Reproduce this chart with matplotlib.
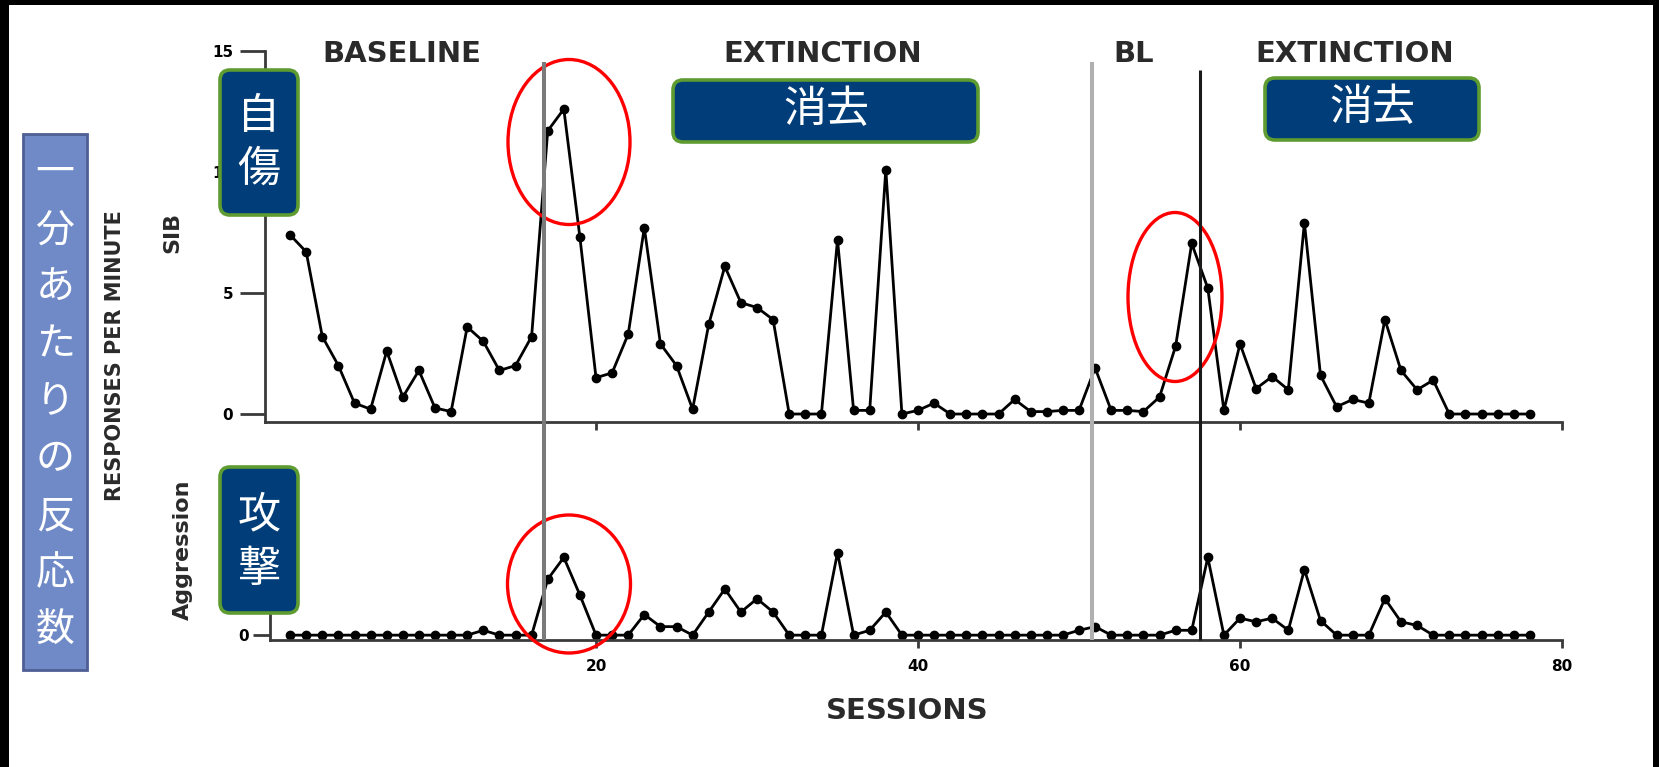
import matplotlib
matplotlib.use("Agg")
import numpy as np
import matplotlib.pyplot as plt
import matplotlib.patches as mpatches
import matplotlib.transforms as mtransforms

plt.rcParams['font.family'] = ['DejaVu Sans', 'Noto Sans CJK JP']

# --- data (responses per minute) ---
sessions = np.arange(1, 79)

sib_baseline = [7.4, 6.7, 3.2, 2.0, 0.45, 0.2, 2.6, 0.7, 1.8, 0.25, 0.1, 3.6, 3.0, 1.8, 2.0, 3.2]
sib_extinction1 = [11.7, 12.6, 7.3, 1.5, 1.7, 3.3, 7.7, 2.9, 2.0, 0.2, 3.7, 6.1, 4.6, 4.4, 3.9,
                   0.0, 0.0, 0.0, 7.2, 0.15, 0.15, 10.1, 0.0, 0.15, 0.45, 0.0, 0.0, 0.0, 0.0,
                   0.6, 0.1, 0.1, 0.15, 0.15]
sib_bl = [1.9, 0.15, 0.15, 0.1, 0.7, 2.8, 7.05]
sib_extinction2 = [5.2, 0.15, 2.9, 1.05, 1.55, 1.0, 7.9, 1.6, 0.3, 0.6, 0.45, 3.9, 1.8, 1.0, 1.4,
                   0.0, 0.0, 0.0, 0.0, 0.0, 0.0]

agg_baseline = [0, 0, 0, 0, 0, 0, 0, 0, 0, 0, 0, 0, 0.2, 0, 0, 0]
agg_extinction1 = [2.3, 3.2, 1.65, 0, 0, 0, 0.85, 0.35, 0.35, 0, 0.95, 1.9, 0.95, 1.5, 0.95,
                   0, 0, 0, 3.4, 0, 0.2, 0.95, 0, 0, 0, 0, 0, 0, 0, 0, 0, 0, 0, 0.2]
agg_bl = [0.35, 0, 0, 0, 0, 0.2, 0.2]
agg_extinction2 = [3.2, 0, 0.7, 0.55, 0.7, 0.2, 2.7, 0.6, 0, 0, 0, 1.5, 0.55, 0.4,
                   0, 0, 0, 0, 0, 0, 0]

sib = sib_baseline + sib_extinction1 + sib_bl + sib_extinction2
aggression = agg_baseline + agg_extinction1 + agg_bl + agg_extinction2

phase_changes = [16.8, 50.8, 57.5]
phase_names = ["BASELINE", "EXTINCTION", "BL", "EXTINCTION"]
phase_name_x = [7.95, 34.1, 53.4, 67.1]

ylabel_jp = "一分あたりの反応数"

# --- layout (pixels of the 1659x767 picture) ---
W, H = 1659, 767
NAVY = '#013e79'
GREEN = '#5e9b30'

def fr(x0, y0, x1, y1):
    return [x0 / W, 1 - y1 / H, (x1 - x0) / W, (y1 - y0) / H]

fig = plt.figure(figsize=(W / 100, H / 100), dpi=100)
fig.patch.set_facecolor('white')

ax1 = fig.add_axes(fr(265, 51, 1562, 422))
ax2 = fig.add_axes(fr(270, 470, 1562, 640))

for ax in (ax1, ax2):
    for side in ('top', 'right'):
        ax.spines[side].set_visible(False)
    for side in ('left', 'bottom'):
        ax.spines[side].set_color('#3a3a3a')
        ax.spines[side].set_linewidth(2.0)
    ax.set_facecolor('none')
    ax.set_xticks([20, 40, 60, 80])

ax1.plot(sessions, sib, color='black', lw=2.0, marker='o', ms=6)
ax1.set_xlim(-0.56, 80)
ax1.set_ylim(-0.33, 15)
ax1.set_yticks([0, 5, 10, 15])
ax1.set_xticklabels([])
ax1.tick_params(axis='y', length=18, width=2, pad=5, labelsize=11, color='#3a3a3a')
ax1.tick_params(axis='x', length=6, width=2, color='#3a3a3a')

ax2.plot(sessions, aggression, color='black', lw=2.0, marker='o', ms=6)
ax2.set_xlim(-0.25, 80)
ax2.set_ylim(-0.2, 6.8)
ax2.set_yticks([0])
ax2.tick_params(axis='y', length=12, width=2, pad=3, labelsize=11, color='#3a3a3a')
ax2.tick_params(axis='x', length=6, width=2, pad=8, labelsize=11, color='#3a3a3a')
for lab in ax1.get_yticklabels() + ax2.get_yticklabels() + ax2.get_xticklabels():
    lab.set_fontweight('bold')

# overlay in pixel coordinates for annotations
ov = fig.add_axes([0, 0, 1, 1])
ov.set_xlim(0, W)
ov.set_ylim(H, 0)
ov.axis('off')
ov.set_zorder(5)
ov.patch.set_alpha(0)

trans = mtransforms.blended_transform_factory(ax1.transData, ov.transData)
line_styles = [('#7a7a7a', 2.9, 62), ('#b0b0b0', 2.9, 62), ('#1a1a1a', 2.2, 70)]
for x, (c, lw, ytop) in zip(phase_changes, line_styles):
    ov.plot([x, x], [ytop, 640], color=c, lw=lw, transform=trans, solid_capstyle='butt')

for name, x in zip(phase_names, phase_name_x):
    ov.text(x, 54, name, transform=trans, ha='center', va='center',
            fontsize=21, fontweight='bold', color='#2a2a2a')

fig.text(115 / W, 1 - 356 / H, "RESPONSES PER MINUTE", rotation=90, ha='center', va='center',
         fontsize=15, fontweight='bold', color='#2a2a2a')
fig.text(172 / W, 1 - 232 / H, "SIB", rotation=90, ha='center', va='center',
         fontsize=16, fontweight='bold', color='#2a2a2a')
fig.text(183 / W, 1 - 550 / H, "Aggression", rotation=90, ha='center', va='center',
         fontsize=16, fontweight='bold', color='#2a2a2a')
fig.text(907 / W, 1 - 711 / H, "SESSIONS", ha='center', va='center',
         fontsize=21, fontweight='bold', color='#2a2a2a')

# red ellipses
for cx, cy, w, h in [(569, 142, 122, 165), (1175, 297, 94, 169), (569, 584, 123, 138)]:
    ov.add_patch(mpatches.Ellipse((cx, cy), w, h, fill=False, ec='#ff0000', lw=2.4))

# navy label boxes
def label_box(x0, y0, x1, y1, chars, centers):
    box = mpatches.FancyBboxPatch((x0, y0), x1 - x0, y1 - y0,
                                  boxstyle="round,pad=0,rounding_size=10",
                                  fc=NAVY, ec=GREEN, lw=2.6)
    ov.add_patch(box)
    for ch, (tx, ty) in zip(chars, centers):
        ov.text(tx, ty, ch, ha='center', va='center', color='white', fontsize=31,
                family=['Noto Sans CJK JP', 'DejaVu Sans'])

label_box(220, 70, 298, 215, ["自", "傷"], [(259, 117), (259, 170)])
label_box(220, 467, 298, 613, ["攻", "撃"], [(259, 515), (259, 570)])
label_box(673, 80, 978, 142, ["消去"], [(826, 110)])
label_box(1265, 78, 1479, 140, ["消去"], [(1372, 108)])

# left vertical label
ov.add_patch(mpatches.Rectangle((23, 134), 64, 536, fc='#6f8ac6', ec='#4f5f95', lw=2))
for i, ch in enumerate(ylabel_jp):
    ov.text(55, 173 + 57.2 * i, ch, ha='center', va='center', color='white', fontsize=28,
            family=['Noto Sans CJK JP', 'DejaVu Sans'])

# dark frame edges of the slide screenshot
ov.add_patch(mpatches.Rectangle((0, 0), 9, H, fc='black', ec='none'))
ov.add_patch(mpatches.Rectangle((0, 0), W, 5, fc='black', ec='none'))
ov.add_patch(mpatches.Rectangle((W - 6, 0), 6, H, fc='black', ec='none'))

fig.savefig("out.png", dpi=100)
